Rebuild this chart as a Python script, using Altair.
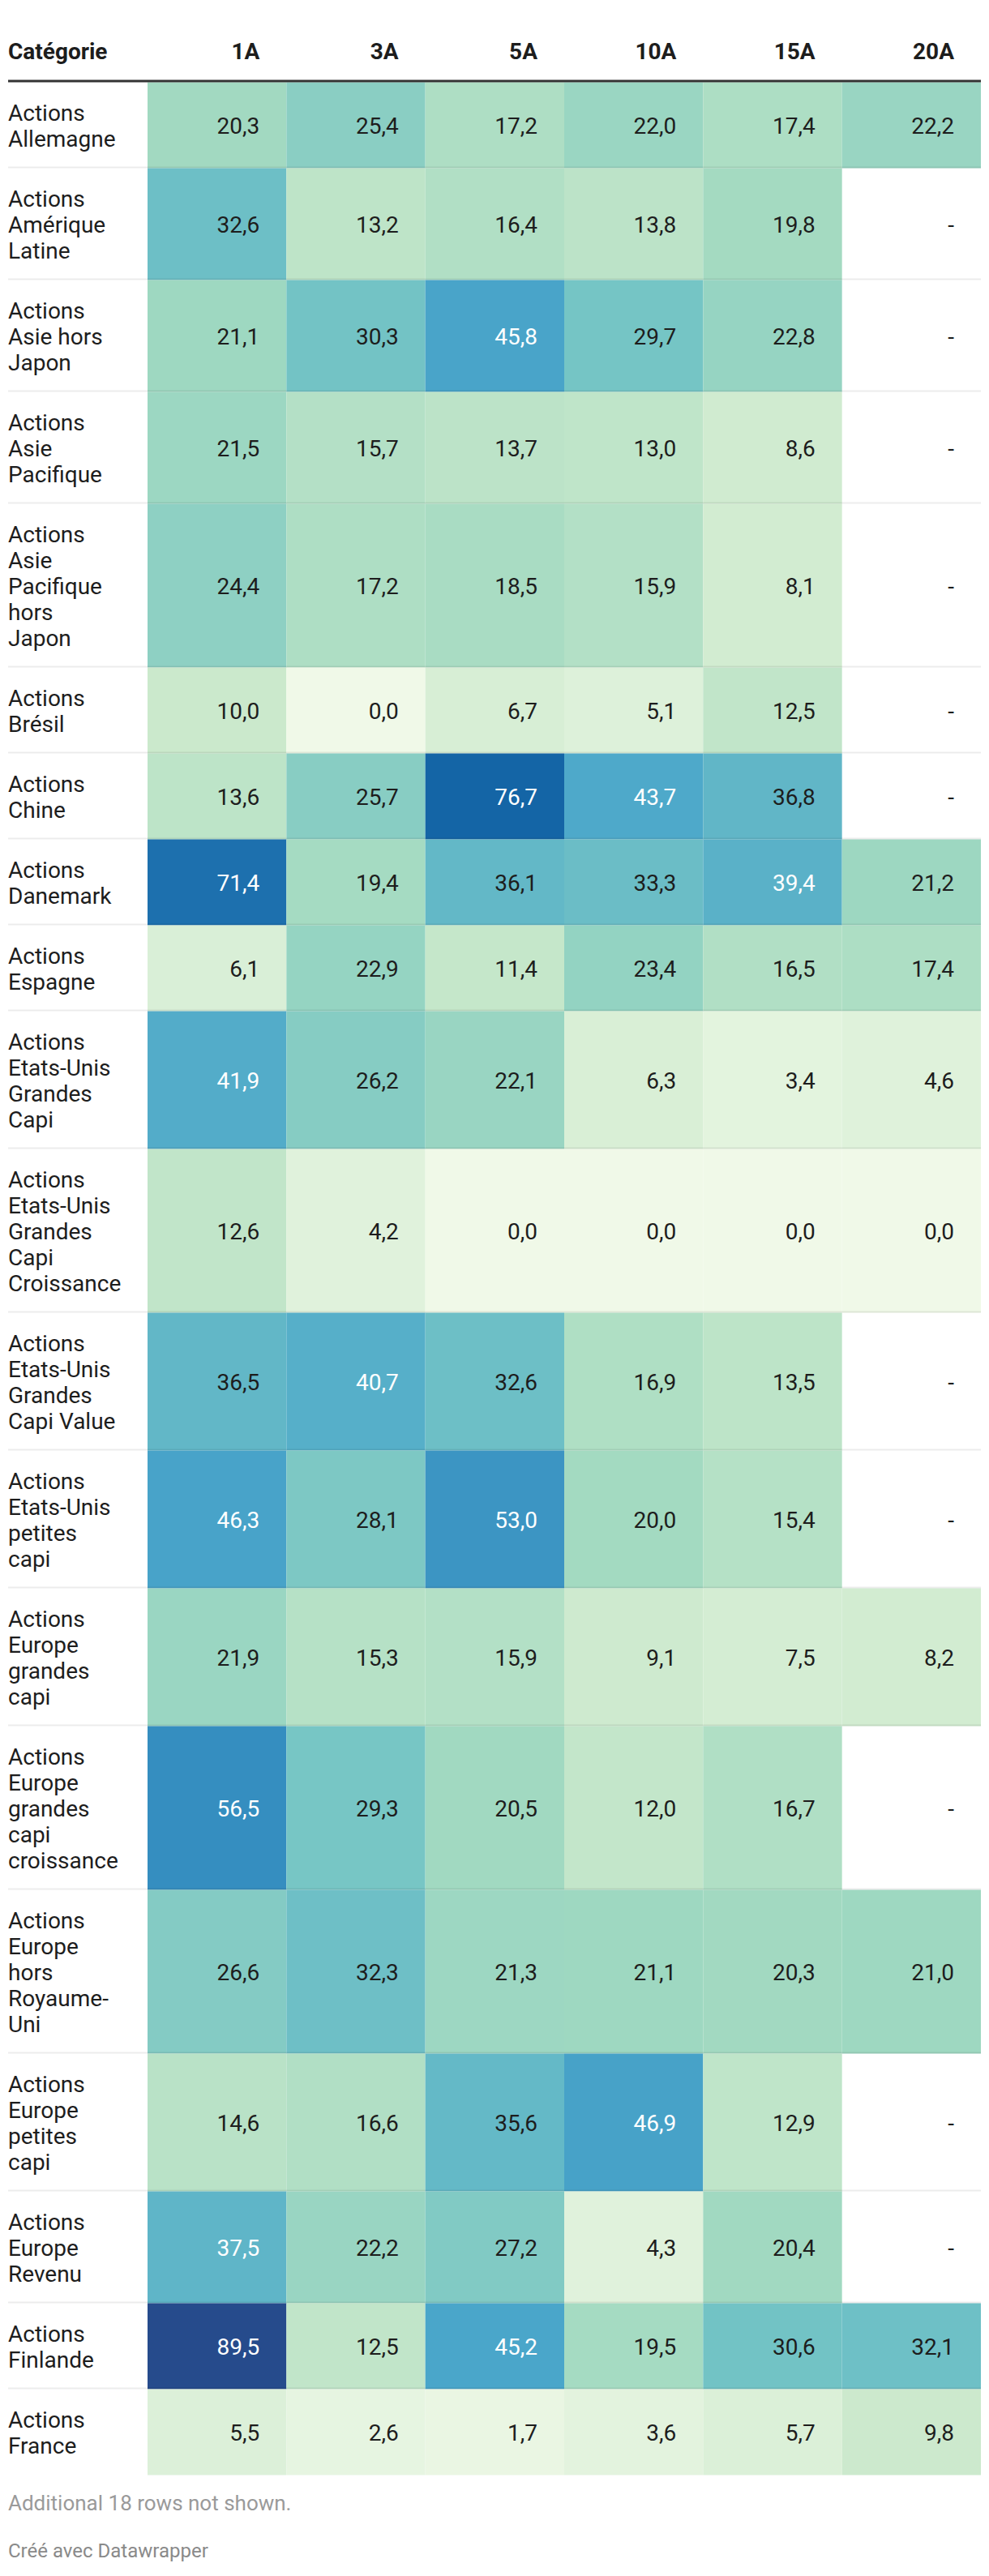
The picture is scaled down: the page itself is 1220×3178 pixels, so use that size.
import altair as alt
import pandas as pd

# ---------------- data ----------------
periods = ["1A", "3A", "5A", "10A", "15A", "20A"]

categories = [
    "Actions\nAllemagne",
    "Actions\nAmérique\nLatine",
    "Actions\nAsie hors\nJapon",
    "Actions\nAsie\nPacifique",
    "Actions\nAsie\nPacifique\nhors\nJapon",
    "Actions\nBrésil",
    "Actions\nChine",
    "Actions\nDanemark",
    "Actions\nEspagne",
    "Actions\nEtats-Unis\nGrandes\nCapi",
    "Actions\nEtats-Unis\nGrandes\nCapi\nCroissance",
    "Actions\nEtats-Unis\nGrandes\nCapi Value",
    "Actions\nEtats-Unis\npetites\ncapi",
    "Actions\nEurope\ngrandes\ncapi",
    "Actions\nEurope\ngrandes\ncapi\ncroissance",
    "Actions\nEurope\nhors\nRoyaume-\nUni",
    "Actions\nEurope\npetites\ncapi",
    "Actions\nEurope\nRevenu",
    "Actions\nFinlande",
    "Actions\nFrance",
]

v_1A = [20.3, 32.6, 21.1, 21.5, 24.4, 10.0, 13.6, 71.4, 6.1, 41.9, 12.6, 36.5, 46.3, 21.9, 56.5, 26.6, 14.6, 37.5, 89.5, 5.5]
v_3A = [25.4, 13.2, 30.3, 15.7, 17.2, 0.0, 25.7, 19.4, 22.9, 26.2, 4.2, 40.7, 28.1, 15.3, 29.3, 32.3, 16.6, 22.2, 12.5, 2.6]
v_5A = [17.2, 16.4, 45.8, 13.7, 18.5, 6.7, 76.7, 36.1, 11.4, 22.1, 0.0, 32.6, 53.0, 15.9, 20.5, 21.3, 35.6, 27.2, 45.2, 1.7]
v_10A = [22.0, 13.8, 29.7, 13.0, 15.9, 5.1, 43.7, 33.3, 23.4, 6.3, 0.0, 16.9, 20.0, 9.1, 12.0, 21.1, 46.9, 4.3, 19.5, 3.6]
v_15A = [17.4, 19.8, 22.8, 8.6, 8.1, 12.5, 36.8, 39.4, 16.5, 3.4, 0.0, 13.5, 15.4, 7.5, 16.7, 20.3, 12.9, 20.4, 30.6, 5.7]
v_20A = [22.2, None, None, None, None, None, None, 21.2, 17.4, 4.6, 0.0, None, None, 8.2, None, 21.0, None, None, 32.1, 9.8]

columns = [v_1A, v_3A, v_5A, v_10A, v_15A, v_20A]

header_first = "Catégorie"
note_text = "Additional 18 rows not shown."
credit_text = "Créé avec Datawrapper"

# ---------------- layout ----------------
W, H = 1204, 3162
X_LEFT, X_RIGHT, X_DATA = 2, 1202, 174
CW = (X_RIGHT - X_DATA) / len(periods)
CELL_PAD_R = 33
HEAD_BASE = 65
RULE_Y = 92
TOP = 93.5
LH = 32
PAD = 42
FONT = "Roboto"
FS = 28
TXT = "#1d1d1d"

cells, labels, seps = [], [], []
y = TOP
for i, cat in enumerate(categories):
    n = cat.count("\n") + 1
    h = n * LH + PAD
    y0, y1 = y, y + h
    mid = (y0 + y1) / 2
    labels.append({"text": cat, "x": X_LEFT, "y": mid + 10 - (n - 1) * LH / 2})
    for j, p in enumerate(periods):
        v = columns[j][i]
        x0 = X_DATA + j * CW
        cells.append({
            "cat": cat, "period": p, "value": v,
            "label": "-" if v is None else f"{v:.1f}".replace(".", ","),
            "x0": x0, "x1": x0 + CW, "y0": y0, "y1": y1,
            "tx": x0 + CW - CELL_PAD_R, "ty": mid + 10,
        })
    if i < len(categories) - 1:
        seps.append({"xa": X_LEFT, "xb": X_RIGHT, "ya": y1 - 1})
    y = y1
table_bottom = y

df_cells = pd.DataFrame(cells)
df_rects = df_cells[df_cells["value"].notna()]
df_labels = pd.DataFrame(labels)
df_seps = pd.DataFrame(seps)

headers = [{"text": header_first, "x": X_LEFT, "y": HEAD_BASE, "al": "left"}]
for j, p in enumerate(periods):
    headers.append({"text": p, "x": X_DATA + (j + 1) * CW - CELL_PAD_R, "y": HEAD_BASE, "al": "right"})
df_head_l = pd.DataFrame([h for h in headers if h["al"] == "left"])
df_head_r = pd.DataFrame([h for h in headers if h["al"] == "right"])

df_rule = pd.DataFrame([{"xa": X_LEFT, "xb": X_RIGHT, "ya": RULE_Y}])
df_note = pd.DataFrame([{"text": note_text, "x": X_LEFT, "y": table_bottom + 43}])
df_credit = pd.DataFrame([{"text": credit_text, "x": X_LEFT, "y": table_bottom + 101}])

xs = alt.Scale(domain=[0, W], nice=False, zero=False)
ys = alt.Scale(domain=[0, H], nice=False, zero=False, reverse=True)

color_scale = alt.Scale(
    domain=[0, 10, 20, 30, 45, 60, 77, 89.5],
    range=["#f0f9e8", "#cbe9cc", "#a3dac1", "#74c4c5", "#4aa6ca", "#2f87bd", "#1464a6", "#264b8c"],
    interpolate="rgb",
)

rects = alt.Chart(df_rects).mark_rect(strokeWidth=0).encode(
    x=alt.X("x0:Q", scale=xs, axis=None),
    x2="x1:Q",
    y=alt.Y("y0:Q", scale=ys, axis=None),
    y2="y1:Q",
    color=alt.Color("value:Q", scale=color_scale, legend=None),
)

seps_layer = alt.Chart(df_seps).mark_rule(strokeWidth=2, color="#000000", opacity=0.075).encode(
    x=alt.X("xa:Q", scale=xs, axis=None),
    x2="xb:Q",
    y=alt.Y("ya:Q", scale=ys, axis=None),
)

values = alt.Chart(df_cells).mark_text(
    font=FONT, fontSize=FS, align="right", baseline="alphabetic"
).encode(
    x=alt.X("tx:Q", scale=xs, axis=None),
    y=alt.Y("ty:Q", scale=ys, axis=None),
    text="label:N",
    color=alt.condition("datum.value > 37", alt.value("#ffffff"), alt.value(TXT)),
)

label_layer = alt.Chart(df_labels).mark_text(
    font=FONT, fontSize=FS, align="left", baseline="alphabetic",
    lineBreak="\n", lineHeight=LH, color=TXT,
).encode(
    x=alt.X("x:Q", scale=xs, axis=None),
    y=alt.Y("y:Q", scale=ys, axis=None),
    text="text:N",
)

head_l = alt.Chart(df_head_l).mark_text(
    font=FONT, fontSize=FS, fontWeight="bold", align="left", baseline="alphabetic", color=TXT
).encode(
    x=alt.X("x:Q", scale=xs, axis=None),
    y=alt.Y("y:Q", scale=ys, axis=None),
    text="text:N",
)

head_r = alt.Chart(df_head_r).mark_text(
    font=FONT, fontSize=FS, fontWeight="bold", align="right", baseline="alphabetic", color=TXT
).encode(
    x=alt.X("x:Q", scale=xs, axis=None),
    y=alt.Y("y:Q", scale=ys, axis=None),
    text="text:N",
)

rule = alt.Chart(df_rule).mark_rule(strokeWidth=3, color="#333333").encode(
    x=alt.X("xa:Q", scale=xs, axis=None),
    x2="xb:Q",
    y=alt.Y("ya:Q", scale=ys, axis=None),
)

note = alt.Chart(df_note).mark_text(
    font=FONT, fontSize=26, align="left", baseline="alphabetic", color="#9a9a9a"
).encode(
    x=alt.X("x:Q", scale=xs, axis=None),
    y=alt.Y("y:Q", scale=ys, axis=None),
    text="text:N",
)

credit = alt.Chart(df_credit).mark_text(
    font=FONT, fontSize=24, align="left", baseline="alphabetic", color="#8a8a8a"
).encode(
    x=alt.X("x:Q", scale=xs, axis=None),
    y=alt.Y("y:Q", scale=ys, axis=None),
    text="text:N",
)

chart = alt.layer(
    rects, seps_layer, values, label_layer, head_l, head_r, rule, note, credit
).properties(
    width=W, height=H, padding=0, background="#ffffff"
).configure_view(strokeWidth=0)

chart.save("out.html", embed_options={"renderer": "svg", "actions": False})
